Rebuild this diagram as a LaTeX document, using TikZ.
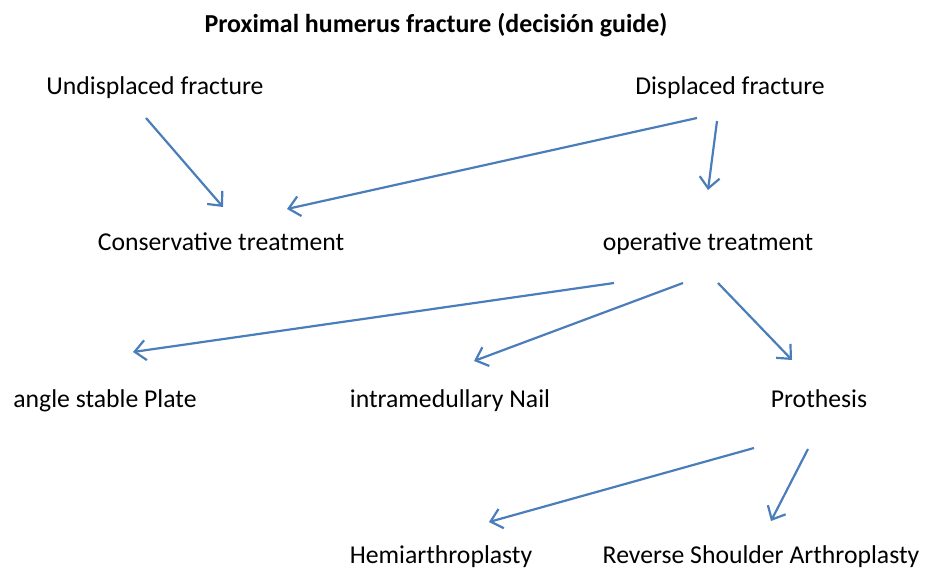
\documentclass[tikz,border=0pt]{standalone}
\usepackage{fontspec}
\setmainfont{Carlito}
\usetikzlibrary{arrows.meta}
\definecolor{arr}{HTML}{4A7EBB}
\begin{document}
\begin{tikzpicture}[x=1pt,y=-1pt,
  lbl/.style={inner sep=0pt,anchor=base,font=\fontsize{25.7}{30}\selectfont,text=black},
  ttl/.style={inner sep=0pt,font=\fontsize{25.9}{30}\selectfont\bfseries,text=black},
  conn/.style={draw=arr,line width=2.2pt,-{Straight Barb[length=11pt,width=20pt,line width=2.2pt]}}]
\useasboundingbox (0,0) rectangle (933,569);
\node[ttl] (title) at (436,25) {Proximal humerus fracture (decisión guide)};
\node[lbl] (und) at (155,95) {Undisplaced fracture};
\node[lbl] (dis) at (730,95) {Displaced fracture};
\node[lbl] (con) at (221,250) {Conservative treatment};
\node[lbl] (ope) at (708,250) {operative treatment};
\node[lbl] (pla) at (105,407) {angle stable Plate};
\node[lbl] (nai) at (450,407) {intramedullary Nail};
\node[lbl] (pro) at (819,407) {Prothesis};
\node[lbl] (hem) at (441,563) {Hemiarthroplasty};
\node[lbl] (rev) at (761,563) {Reverse Shoulder Arthroplasty};
% connector end points
\coordinate (a1s) at (146,118); \coordinate (a1e) at (223,207);
\coordinate (a2s) at (697,118); \coordinate (a2e) at (287,209);
\coordinate (a3s) at (717,121); \coordinate (a3e) at (708,190);
\coordinate (a4s) at (614,283); \coordinate (a4e) at (133,352);
\coordinate (a5s) at (683,283); \coordinate (a5e) at (474,361);
\coordinate (a6s) at (718,283); \coordinate (a6e) at (792,360);
\coordinate (a7s) at (754,448); \coordinate (a7e) at (489,522);
\coordinate (a8s) at (808,449); \coordinate (a8e) at (771,521);
\draw[conn] (a1s) -- (a1e);
\draw[conn] (a2s) -- (a2e);
\draw[conn] (a3s) -- (a3e);
\draw[conn] (a4s) -- (a4e);
\draw[conn] (a5s) -- (a5e);
\draw[conn] (a6s) -- (a6e);
\draw[conn] (a7s) -- (a7e);
\draw[conn] (a8s) -- (a8e);
\end{tikzpicture}
\end{document}
